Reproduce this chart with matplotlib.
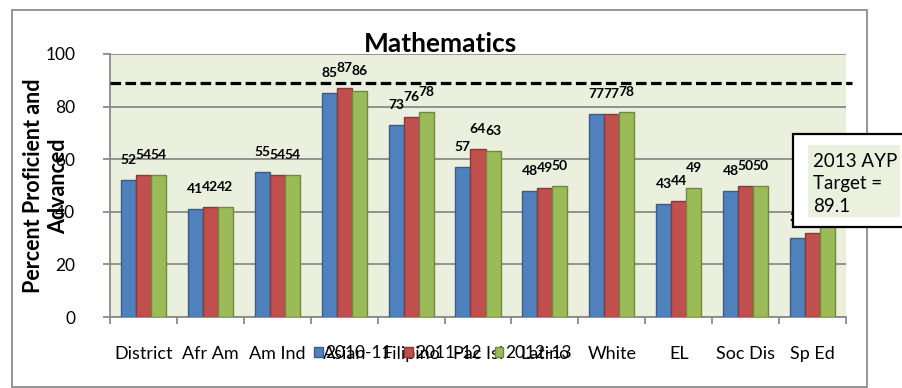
import matplotlib
matplotlib.use("Agg")
import matplotlib.pyplot as plt
from matplotlib.patches import Rectangle
import numpy as np

plt.rcParams['font.family'] = ['Lato', 'DejaVu Sans']

groups = ['District', 'Afr Am', 'Am Ind', 'Asian', 'Filipino', 'Pac Isl',
          'Latino', 'White', 'EL', 'Soc Dis', 'Sp Ed']
years = ['2010-11', '2011-12', '2012-13']
pct_2011 = [52, 41, 55, 85, 73, 57, 48, 77, 43, 48, 30]
pct_2012 = [54, 42, 54, 87, 76, 64, 49, 77, 44, 50, 32]
pct_2013 = [54, 42, 54, 86, 78, 63, 50, 78, 49, 50, 35]
ayp_target = 89.1

colors = ['#4F81BD', '#C0504D', '#9BBB59']
edges = ['#385D8A', '#8C3836', '#71893F']
W, H = 902, 388

fig = plt.figure(figsize=(W / 100, H / 100), dpi=100)
ax = fig.add_axes([110 / W, 1 - 317 / H, 736 / W, 263 / H])
ax.set_facecolor('#EBEFDE')

x = np.arange(len(groups))
bw = 0.225
bars = []
for k, vals in enumerate([pct_2011, pct_2012, pct_2013]):
    b = ax.bar(x + (k - 1) * bw, vals, bw, color=colors[k], edgecolor=edges[k],
               linewidth=1.0, zorder=3, label=years[k])
    bars.append(b)
    for xi, v in zip(x + (k - 1) * bw, vals):
        ax.annotate(str(v), (xi, v), xytext=(0, 20), textcoords='offset pixels',
                    ha='center', va='center', fontsize=10, fontweight='bold',
                    zorder=4)

# target line
ax.axhline(ayp_target, xmin=0, xmax=1.008, color='black', lw=2.3,
           linestyle=(0, (3.3, 1.4)), clip_on=False, zorder=5)

ax.set_xlim(-0.5, len(groups) - 0.5)
ax.set_ylim(0, 100)
ax.set_yticks(np.arange(0, 101, 20))
ax.yaxis.grid(True, color='#8A8A8A', lw=1.3, zorder=1)
ax.set_axisbelow(True)
for s in ['top', 'right']:
    ax.spines[s].set_visible(False)
for s in ['left', 'bottom']:
    ax.spines[s].set_color('#8A8A8A')
    ax.spines[s].set_linewidth(1.3)

ax.set_xticks(np.arange(-0.5, len(groups), 1))
ax.set_xticklabels([])
ax.set_xticks(x, minor=True)
ax.set_xticklabels(groups, minor=True)
ax.tick_params(axis='x', which='major', length=5, width=1.3, color='#8A8A8A')
ax.tick_params(axis='x', which='minor', length=0, pad=21, labelsize=13)
ax.tick_params(axis='y', length=5, width=1.3, color='#8A8A8A', pad=20,
               labelsize=12.5)

fig.text(46 / W, 1 - 186 / H, 'Percent Proficient and\nAdvanced', rotation=90,
         ha='center', va='center', multialignment='center', fontsize=15.5,
         fontweight='bold', linespacing=1.2)

fig.text(440 / W, 1 - 52 / H, 'Mathematics', ha='center', va='baseline',
         fontsize=19, fontweight='bold')

fig.legend(handles=bars, labels=years, loc='center', ncol=3,
           bbox_to_anchor=(443 / W, 1 - 353 / H), frameon=False, fontsize=12.5,
           handlelength=0.5, handleheight=0.5, handletextpad=0.12,
           columnspacing=0.75)

# outer chart frame
fig.patches.append(Rectangle((12 / W, 1 - 387 / H), 855 / W, 377 / H,
                             transform=fig.transFigure, fill=False,
                             edgecolor='#8C8C8C', lw=1.3, zorder=5))

# AYP callout
fig.patches.append(Rectangle((793 / W, 1 - 227 / H), 115 / W, 93 / H,
                             transform=fig.transFigure, facecolor='white',
                             edgecolor='black', lw=1.6, zorder=10))
fig.patches.append(Rectangle((808 / W, 1 - 217 / H), 92 / W, 72 / H,
                             transform=fig.transFigure, facecolor='#EBF1DE',
                             edgecolor='none', zorder=11))
fig.text(813 / W, 1 - 184 / H, '2013 AYP\nTarget =\n89.1', ha='left',
         va='center', fontsize=13.5, linespacing=1.36, zorder=12)

fig.savefig('out.png', dpi=100)
